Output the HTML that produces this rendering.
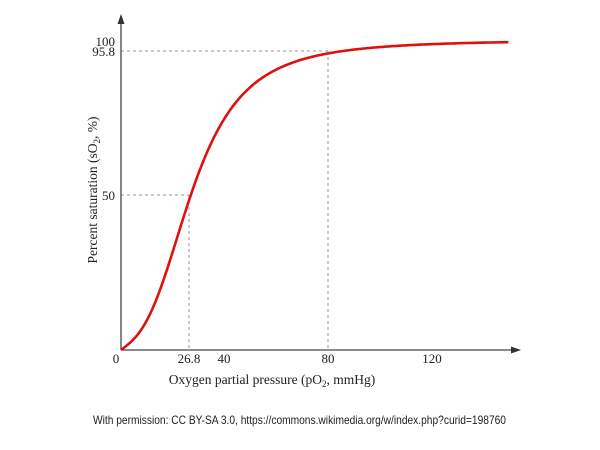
<!DOCTYPE html>
<html><head><meta charset="utf-8"><style>
html,body{margin:0;padding:0;background:#fff;width:600px;height:450px;overflow:hidden}
svg text{font-family:"Liberation Serif",serif;fill:#222}
</style></head><body>
<svg id="s" width="600" height="450" viewBox="0 0 600 450" xmlns="http://www.w3.org/2000/svg">
<g stroke="#999" stroke-width="1" stroke-dasharray="3,3" fill="none">
<line x1="121" y1="51" x2="328" y2="51"/>
<line x1="328" y1="51" x2="328" y2="350"/>
<line x1="121" y1="195" x2="189" y2="195"/>
<line x1="189" y1="195" x2="189" y2="350"/>
</g>
<g stroke="#444" stroke-width="1.3" fill="none">
<line x1="121" y1="350" x2="515" y2="350"/>
<line x1="121" y1="350" x2="121" y2="22"/>
</g>
<polygon points="521,350 511,346.5 511,353.5" fill="#333"/>
<polygon points="121,14 117.5,24 124.5,24" fill="#333"/>
<path id="c" fill="none" stroke="#e01010" stroke-width="2.6"/>
<text x="115" y="46" font-size="13" text-anchor="end">100</text>
<text x="115" y="56" font-size="13" text-anchor="end">95.8</text>
<text x="115" y="200" font-size="13" text-anchor="end">50</text>
<text x="116" y="363" font-size="13" text-anchor="middle">0</text>
<text x="189" y="363" font-size="13" text-anchor="middle">26.8</text>
<text x="224" y="363" font-size="13" text-anchor="middle">40</text>
<text x="328" y="363" font-size="13" text-anchor="middle">80</text>
<text x="432" y="363" font-size="13" text-anchor="middle">120</text>
<text x="272" y="384" font-size="13.5" text-anchor="middle">Oxygen partial pressure (pO<tspan font-size="9" dy="3">2</tspan><tspan dy="-3">, mmHg)</tspan></text>
<text transform="translate(97,190) rotate(-90)" font-size="13.5" text-anchor="middle">Percent saturation (sO<tspan font-size="9" dy="3">2</tspan><tspan dy="-3">, %)</tspan></text>
<text x="93" y="424" font-size="12" textLength="413" lengthAdjust="spacingAndGlyphs" style="font-family:'Liberation Sans',sans-serif">With permission: CC BY-SA 3.0, https://commons.wikimedia.org/w/index.php?curid=198760</text>
</svg>
<script>
var d="";
for(var p=0;p<=149;p+=0.5){var s=1/(23400/(p*p*p+150*p+1e-9)+1);
var x=121+p*2.6,y=350-s*310;d+=(p?"L":"M")+x.toFixed(1)+","+y.toFixed(1);}
document.getElementById("c").setAttribute("d",d);
</script>
</body></html>
